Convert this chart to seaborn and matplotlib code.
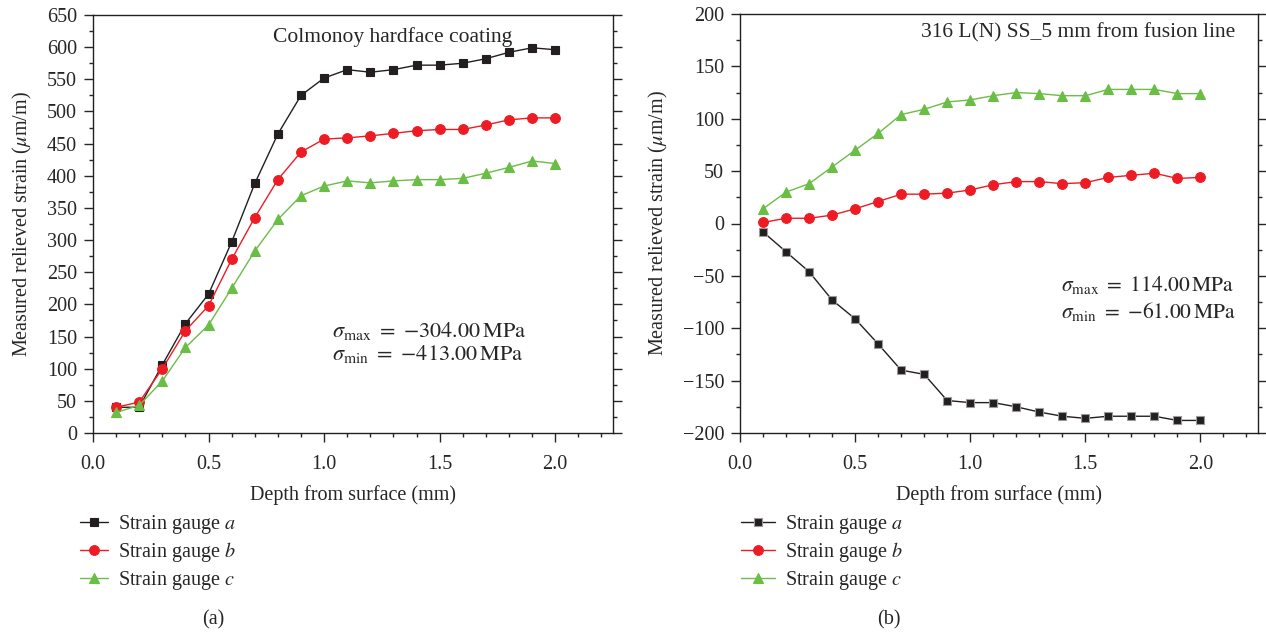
import numpy as np
import pandas as pd
import seaborn as sns
import matplotlib.pyplot as plt
from matplotlib.ticker import MultipleLocator

depth = [0.1, 0.2, 0.3, 0.4, 0.5, 0.6, 0.7, 0.8, 0.9, 1.0,
         1.1, 1.2, 1.3, 1.4, 1.5, 1.6, 1.7, 1.8, 1.9, 2.0]

# (a) Colmonoy hardface coating
a_gauge_a = [40, 40, 106, 170, 216, 297, 388, 465, 525, 552,
             565, 561, 565, 572, 572, 575, 582, 592, 599, 596]
a_gauge_b = [40, 48, 100, 159, 198, 270, 335, 394, 437, 457,
             459, 462, 466, 470, 472, 472, 479, 487, 490, 490]
a_gauge_c = [32, 43, 81, 133, 168, 225, 283, 332, 369, 384,
             392, 389, 392, 394, 394, 396, 404, 413, 423, 419]

# (b) 316 L(N) SS, 5 mm from fusion line
b_gauge_a = [-8, -27, -46, -73, -91, -115, -140, -144, -169, -171,
             -171, -175, -180, -184, -186, -184, -184, -184, -188, -188]
b_gauge_b = [1, 5, 5, 8, 14, 21, 28, 28, 29, 32,
             37, 40, 40, 38, 39, 44, 46, 48, 43, 44]
b_gauge_c = [14, 30, 38, 54, 70, 86, 104, 109, 116, 118,
             122, 125, 124, 122, 122, 128, 128, 128, 124, 124]

gauge_labels = ['Strain gauge $a$', 'Strain gauge $b$', 'Strain gauge $c$']
colors = ['#231f20', '#ed1c24', '#6abd45']
markers = ['s', 'o', '^']

FS = 14.5

sns.set_style('ticks')
plt.rcParams['font.family'] = ['Liberation Serif', 'DejaVu Serif']
plt.rcParams['mathtext.fontset'] = 'stix'
plt.rcParams['axes.linewidth'] = 1.0
plt.rcParams['xtick.direction'] = 'out'
plt.rcParams['ytick.direction'] = 'out'

fig = plt.figure(figsize=(12.66, 6.33), dpi=100)
ax1 = fig.add_axes([93 / 1266, 200 / 633, 520 / 1266, 418 / 633])
ax2 = fig.add_axes([740 / 1266, 200 / 633, 518 / 1266, 419 / 633])


def draw(ax, series, edge):
    for vals, lab, col, mk in zip(series, gauge_labels, colors, markers):
        df = pd.DataFrame({'depth': depth, 'strain': vals})
        ms = 6 if mk == 's' else 7
        sns.lineplot(data=df, x='depth', y='strain', ax=ax, color=col,
                     marker=mk, markersize=ms, linewidth=1.0, label=lab,
                     markeredgecolor=edge if mk == 's' else col,
                     markeredgewidth=0.8)
    ax.set_xlim(0, 2.25)
    ax.xaxis.set_minor_locator(MultipleLocator(0.1))
    ax.set_xticks([0.0, 0.5, 1.0, 1.5, 2.0])
    ax.set_xticklabels(['0.0', '0.5', '1.0', '1.5', '2.0'])
    ax.tick_params(axis='x', which='major', pad=9)
    ax.tick_params(axis='y', which='major', pad=5)
    ax.tick_params(which='major', length=6.5, width=1, labelsize=FS,
                   right=True, top=False)
    ax.tick_params(which='minor', length=3, width=1, right=True, top=False)
    for s in ax.spines.values():
        s.set_visible(True)
        s.set_color('#231f20')
    ax.set_xlabel('Depth from surface (mm)', fontsize=FS, labelpad=8)
    ax.set_ylabel(r'Measured relieved strain ($\mu$m/m)', fontsize=FS, labelpad=9)


draw(ax1, [a_gauge_a, a_gauge_b, a_gauge_c], '#231f20')
ax1.set_ylim(0, 650)
ax1.yaxis.set_major_locator(MultipleLocator(50))
ax1.yaxis.set_minor_locator(MultipleLocator(25))
ax1.text(0.346, 0.947, 'Colmonoy hardface coating', transform=ax1.transAxes,
         fontsize=15.5, va='center', ha='left')
ax1.text(0.46, 0.244, r'$\sigma_{\mathrm{max}}\ =\ {-}304.00\,\mathrm{MPa}$',
         transform=ax1.transAxes, fontsize=16, va='center', ha='left')
ax1.text(0.46, 0.189, r'$\sigma_{\mathrm{min}}\ =\ {-}413.00\,\mathrm{MPa}$',
         transform=ax1.transAxes, fontsize=16, va='center', ha='left')

draw(ax2, [b_gauge_a, b_gauge_b, b_gauge_c], '#9a9a9a')
ax2.set_ylim(-200, 200)
ax2.yaxis.set_major_locator(MultipleLocator(50))
ax2.yaxis.set_minor_locator(MultipleLocator(25))
ax2.text(0.957, 0.955, '316 L(N) SS_5 mm from fusion line', transform=ax2.transAxes,
         fontsize=15.5, va='center', ha='right')
ax2.text(0.62, 0.353, r'$\sigma_{\mathrm{max}}\ =\ 114.00\,\mathrm{MPa}$',
         transform=ax2.transAxes, fontsize=15.5, va='center', ha='left')
ax2.text(0.62, 0.289, r'$\sigma_{\mathrm{min}}\ =\ {-}61.00\,\mathrm{MPa}$',
         transform=ax2.transAxes, fontsize=15.5, va='center', ha='left')

for ax, bx, hl in [(ax1, 0.052, 1.4), (ax2, 0.574, 1.7)]:
    ax.get_legend().remove()
    h, l = ax.get_legend_handles_labels()
    fig.legend(h, l, loc='upper left', bbox_to_anchor=(bx, 0.212),
               frameon=False, fontsize=FS, handlelength=hl,
               handletextpad=0.5, labelspacing=0.22, borderpad=0.2)

fig.text(213 / 1266, 1 - 620 / 633, '(a)', fontsize=FS, ha='center', va='center')
fig.text(889 / 1266, 1 - 620 / 633, '(b)', fontsize=FS, ha='center', va='center')

fig.savefig('out.png', dpi=100)
